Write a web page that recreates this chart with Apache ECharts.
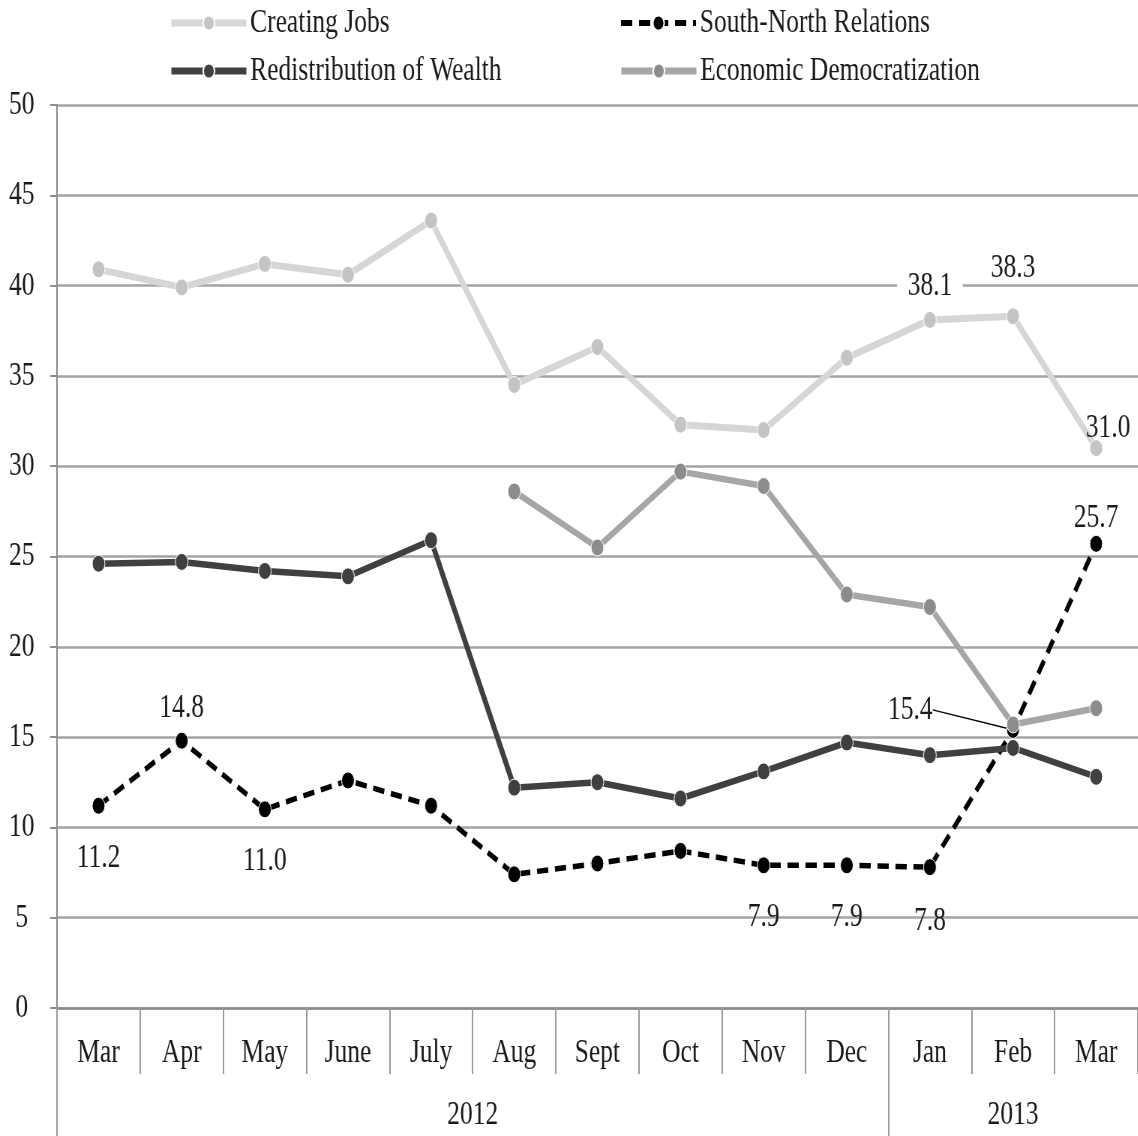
<!DOCTYPE html>
<html><head><meta charset="utf-8">
<script src="https://cdn.jsdelivr.net/npm/echarts@6/dist/echarts.min.js"></script>
<style>
html,body{margin:0;padding:0;overflow:hidden;background:#fff;width:1138px;height:1136px}
#c{width:1517px;height:1136px;transform:scaleX(0.75);transform-origin:0 0;}
</style>
</head><body><div id="c"></div><script>
// ---- data ----
const months = ['Mar','Apr','May','June','July','Aug','Sept','Oct','Nov','Dec','Jan','Feb','Mar'];
const years = ['2012','2013'];
const yearMonthCounts = [10, 3];
const yMin = 0, yMax = 50, yStep = 5;
const seriesNames = ['Creating Jobs','South-North Relations','Redistribution of Wealth','Economic Democratization'];
const creatingJobs   = [40.9,39.9,41.2,40.6,43.6,34.5,36.6,32.3,32.0,36.0,38.1,38.3,31.0];
const southNorth     = [11.2,14.8,11.0,12.6,11.2,7.4,8.0,8.7,7.9,7.9,7.8,15.4,25.7];
const redistribution = [24.6,24.7,24.2,23.9,25.9,12.2,12.5,11.6,13.1,14.7,14.0,14.4,12.8];
const econDem        = [null,null,null,null,null,28.6,25.5,29.7,28.9,22.9,22.2,15.7,16.6];
// indices of labelled points
const cjLabelled = [10, 11, 12];
const snLabelled = [0, 1, 2, 8, 9, 10, 11, 12];

// ---- styling (not data) ----
const FONT = 'Liberation Serif';
const FS = 34;
const cjLabelStyle = {
  10: {position:'top', distance:8, backgroundColor:'#fff', padding:[0,14]},
  11: {position:'top', distance:22},
  12: {position:'top', distance:0, offset:[16,6]}
};
const snLabelStyle = {
  0: {position:'bottom', distance:26},
  1: {position:'top', distance:7},
  2: {position:'bottom', distance:26, offset:[7,0]},
  8: {position:'bottom', distance:26, offset:[8,0]},
  9: {position:'bottom', distance:26},
  10:{position:'bottom', distance:28},
  11:{position:'inside'},
  12:{position:'top', distance:0, offset:[0,8]}
};

function build(values, labelled, styles){
  return values.map((v,i)=>{
    if (labelled.indexOf(i) < 0) return v;
    const item = {value: v, label: Object.assign({show:true}, styles[i] || {})};
    if (i === 11 && styles === snLabelStyle) item.labelLine = {show:true, lineStyle:{color:'#000', width:1.5}};
    return item;
  });
}

// year axis helpers
let acc = 0;
const yearCenters = [], yearDividers = [];
yearMonthCounts.forEach(n => { yearDividers.push(acc); yearCenters.push(acc + n/2); acc += n; });

const labelText = {fontFamily: FONT, fontSize: FS, color:'#1a1a1a', formatter: p => Number(p.value).toFixed(1)};

const chart = echarts.init(document.getElementById('c'), null, {renderer:'canvas'});
function legendAt(i, left, top, w){
  return {
    data:[seriesNames[i]], left:left, top:top, padding:0,
    itemWidth: 100, itemHeight: 19, itemGap: 0,
    lineStyle: {width: w},
    textStyle: {fontFamily: FONT, fontSize: FS, color:'#1a1a1a', lineHeight: 38},
    selectedMode: false
  };
}
chart.setOption({
  animation: false,
  backgroundColor: '#fff',
  textStyle: {fontFamily: FONT},
  legend: [
    legendAt(0, 225, 4, 7),
    legendAt(1, 825, 4, 6),
    legendAt(2, 225, 52, 7),
    legendAt(3, 825, 52, 7)
  ],
  grid: {left:76, right:0, top:105, bottom:128, containLabel:false},
  xAxis: [
    {
      type:'category', data: months, boundaryGap:true,
      axisLine:{show:true, lineStyle:{color:'#8c8c8c', width:2.5}},
      axisTick:{show:true, interval:0, length:66, lineStyle:{color:'#9a9a9a', width:2}},
      axisLabel:{interval:0, fontFamily:FONT, fontSize:FS, color:'#1a1a1a', margin:28},
      splitLine:{show:false}
    },
    {
      type:'value', min:0, max:months.length, position:'bottom', offset:66,
      axisLine:{show:false},
      axisTick:{show:true, customValues: yearDividers, length:70, lineStyle:{color:'#9a9a9a', width:2}},
      axisLabel:{customValues: yearCenters, fontFamily:FONT, fontSize:FS, color:'#1a1a1a', margin:24,
        formatter: v => years[yearCenters.indexOf(v)] || ''},
      splitLine:{show:false}
    }
  ],
  yAxis: {
    type:'value', min:yMin, max:yMax, interval:yStep,
    axisLine:{show:true, lineStyle:{color:'#8c8c8c', width:2}},
    axisTick:{show:true, length:9, lineStyle:{color:'#8c8c8c', width:2}},
    axisLabel:{fontFamily:FONT, fontSize:FS, color:'#1a1a1a', align:'center', margin:47},
    splitLine:{show:true, lineStyle:{color:'#a3a3a3', width:2.5}}
  },
  series: [
    {
      name: seriesNames[1], type:'line', data: build(southNorth, snLabelled, snLabelStyle),
      symbol:'circle', symbolSize:17, z:2,
      lineStyle:{color:'#000', width:5.5, type:[15,9]},
      itemStyle:{color:'#000', borderColor:'#fff', borderWidth:1},
      label: Object.assign({show:false}, labelText),
      labelLine:{show:false},
      labelLayout: p => (p.dataIndex === 11 ? {dx:-137, dy:-20} : {})
    },
    {
      name: seriesNames[0], type:'line', data: build(creatingJobs, cjLabelled, cjLabelStyle),
      symbol:'circle', symbolSize:17, z:3,
      lineStyle:{color:'#d6d6d6', width:7},
      itemStyle:{color:'#c4c4c4', borderColor:'#fff', borderWidth:1},
      label: Object.assign({show:false}, labelText)
    },
    {
      name: seriesNames[2], type:'line', data: redistribution,
      symbol:'circle', symbolSize:17, z:4,
      lineStyle:{color:'#404040', width:6.5},
      itemStyle:{color:'#404040', borderColor:'#fff', borderWidth:1}
    },
    {
      name: seriesNames[3], type:'line', data: econDem,
      symbol:'circle', symbolSize:17, z:5,
      lineStyle:{color:'#a6a6a6', width:6.5},
      itemStyle:{color:'#8c8c8c', borderColor:'#fff', borderWidth:1}
    }
  ]
});
</script></body></html>
